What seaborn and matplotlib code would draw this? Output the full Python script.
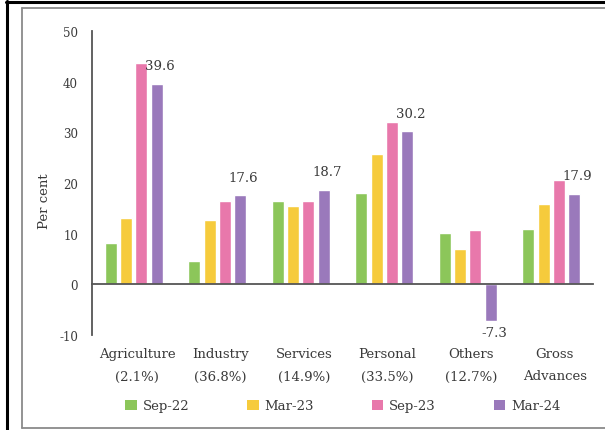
import matplotlib
matplotlib.use("Agg")
import matplotlib.pyplot as plt
from matplotlib.lines import Line2D
from matplotlib.patches import Patch
import seaborn as sns
import pandas as pd

# Growth in credit by sector (per cent, y-o-y); sector shares in brackets
categories = ["Agriculture\n(2.1%)", "Industry\n(36.8%)", "Services\n(14.9%)",
              "Personal\n(33.5%)", "Others\n(12.7%)", "Gross\nAdvances"]
periods = ["Sep-22", "Mar-23", "Sep-23", "Mar-24"]
sep22 = [8.1, 4.7, 16.4, 18.0, 10.1, 10.9]
mar23 = [13.0, 12.6, 15.4, 25.8, 7.0, 15.8]
sep23 = [43.7, 16.5, 16.5, 32.1, 10.7, 20.5]
mar24 = [39.6, 17.6, 18.7, 30.2, -7.3, 17.9]
y_ticks = [-10, 0, 10, 20, 30, 40, 50]

colors = ["#8cc65a", "#f6cb3c", "#e878ab", "#9a79bb"]
text_color = "#3a3a3a"

rows = []
for period, vals in zip(periods, [sep22, mar23, sep23, mar24]):
    for cat, v in zip(categories, vals):
        rows.append({"category": cat, "period": period, "value": v})
df = pd.DataFrame(rows)

sns.set_theme(style="white")
plt.rcParams["font.family"] = ["DejaVu Serif"]

W, H = 605, 431
fig = plt.figure(figsize=(W / 100, H / 100), dpi=100)
ax = fig.add_axes([92 / W, 1 - 336 / H, (593 - 92) / W, 304 / H])

sns.barplot(data=df, x="category", y="value", hue="period",
            order=categories, hue_order=periods, palette=colors,
            width=0.73, gap=0.22, saturation=1, legend=False, ax=ax)

ax.set_xlim(-0.5, 5.5)
ax.set_ylim(-10, 50)
ax.set_yticks(y_ticks)
ax.set_yticklabels([str(t) for t in y_ticks])
ax.set_xlabel("")
ax.set_ylabel("")

for s in ["top", "right"]:
    ax.spines[s].set_visible(False)
ax.spines["left"].set_color("#555555")
ax.spines["left"].set_linewidth(1.3)
ax.spines["bottom"].set_color("#555555")
ax.spines["bottom"].set_linewidth(1.3)
ax.spines["bottom"].set_position(("data", 0))

ax.set_xticks([i + 0.5 for i in range(len(categories))])
ax.set_xticklabels([])
ax.tick_params(axis="x", direction="out", length=4, width=1.2, color="#555555")
ax.tick_params(axis="y", direction="out", length=5, width=1.2, color="#555555",
               labelsize=8.5, labelcolor=text_color, pad=5)

# Category names below the plot, two lines each
for i, cat in enumerate(categories):
    first, second = cat.split("\n")
    ax.text(i + 0.04, -19 / 304, first, transform=ax.get_xaxis_transform(),
            ha="center", va="center", fontsize=9.5, color=text_color)
    ax.text(i + 0.04, -41 / 304, second, transform=ax.get_xaxis_transform(),
            ha="center", va="center", fontsize=9.5, color=text_color)

# Value labels on the latest period
for rect, v in zip(ax.containers[3], mar24):
    xc = rect.get_x() + rect.get_width() / 2
    off = 13 if v >= 0 else -8
    ax.annotate(f"{v:.1f}", (xc, v), xytext=(2.5, off), textcoords="offset points",
                ha="center", va="center", fontsize=9.5, color=text_color)

fig.text(45 / W, 1 - 201 / H, "Per cent", rotation=90, ha="center", va="center",
         fontsize=9.5, color=text_color)

handles = [Patch(facecolor=c, edgecolor="none", label=p) for c, p in zip(colors, periods)]
fig.legend(handles=handles, loc="center", bbox_to_anchor=(343 / W, 1 - 407 / H),
           ncol=4, frameon=False, fontsize=9.5, handlelength=0.85, handleheight=0.85,
           handletextpad=0.45, columnspacing=4.4, labelcolor=text_color)

# Outer frame
def px_line(xs, ys, color, lw):
    fig.add_artist(Line2D([x / W for x in xs], [1 - y / H for y in ys],
                          transform=fig.transFigure, color=color, linewidth=lw))

px_line([6, W], [2.5, 2.5], "black", 2.2)
px_line([7, 7], [2, H], "black", 2.2)
px_line([22, W], [9, 9], "#8a8a8a", 1.3)
px_line([22, 22], [9, 429], "#8a8a8a", 1.3)
px_line([22, W], [429, 429], "#8a8a8a", 1.3)

fig.savefig("out.png", dpi=100)
